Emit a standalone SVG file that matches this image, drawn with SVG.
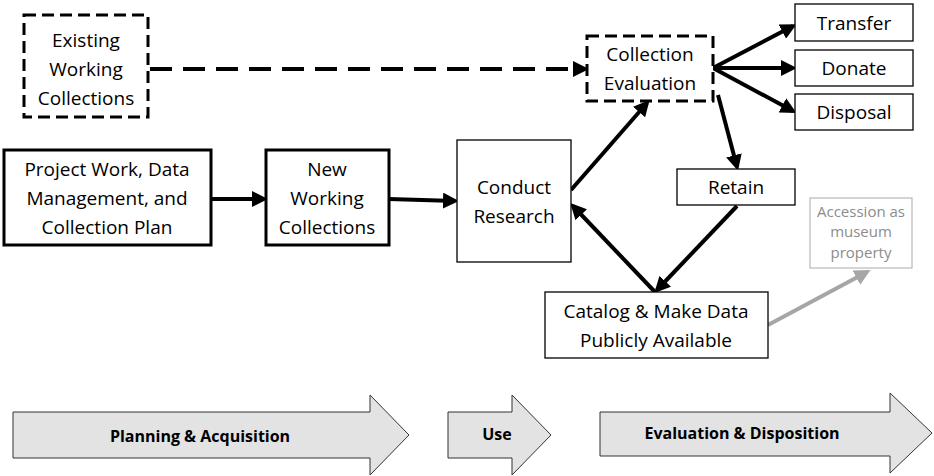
<svg xmlns="http://www.w3.org/2000/svg" width="934" height="476" viewBox="0 0 934 476">
<style>
text{font-family:"Open Sans","Liberation Sans",sans-serif;font-size:19px;fill:#000;text-anchor:middle}
.thick{fill:#fff;stroke:#000;stroke-width:3}
.thin{fill:#fff;stroke:#000;stroke-width:1.3}
.dash{fill:#fff;stroke:#000;stroke-width:3;stroke-dasharray:12 6}
.c{stroke:#000;stroke-width:4;fill:none;marker-end:url(#ah)}
.band{fill:#e3e3e3;stroke:#333;stroke-width:1}
.bl{font-family:"Open Sans","Liberation Sans",sans-serif;font-size:16px;font-weight:bold}
</style>
<defs>
<marker id="ah" markerWidth="4" markerHeight="4" refX="3" refY="2" orient="auto"><path d="M0,0L4,2L0,4z" fill="#000"/></marker>
<marker id="ahg" markerWidth="4" markerHeight="4" refX="3" refY="2" orient="auto"><path d="M0,0L4,2L0,4z" fill="#a6a6a6"/></marker>
</defs>
<g id="connectors">
<line x1="150" y1="69" x2="585" y2="69" stroke="#000" stroke-width="4" stroke-dasharray="22 11" marker-end="url(#ah)"/>
<line class="c" x1="211" y1="199" x2="264" y2="199"/>
<line class="c" x1="389" y1="199" x2="455" y2="201"/>
<line class="c" x1="571" y1="190" x2="647" y2="103"/>
<line class="c" x1="713" y1="68" x2="793" y2="26"/>
<line class="c" x1="713" y1="68" x2="793" y2="68"/>
<line class="c" x1="713" y1="68" x2="793" y2="111"/>
<line class="c" x1="718" y1="95" x2="737" y2="167"/>
<line class="c" x1="737" y1="206" x2="657" y2="290"/>
<line class="c" x1="655" y1="292" x2="573" y2="206"/>
<line x1="768" y1="325" x2="867" y2="272" stroke="#a6a6a6" stroke-width="4" marker-end="url(#ahg)"/>
</g>
<g id="existing"><rect class="dash" x="24" y="15" width="124" height="102"/><text x="86" y="47">Existing</text><text x="86" y="76">Working</text><text x="86" y="105">Collections</text></g>
<g id="evaluation"><rect class="dash" x="587" y="36" width="126" height="65"/><text x="650" y="61">Collection</text><text x="650" y="90">Evaluation</text></g>
<g id="transfer"><rect class="thin" x="795" y="4" width="118" height="37"/><text x="854" y="30">Transfer</text></g>
<g id="donate"><rect class="thin" x="795" y="50" width="118" height="36"/><text x="854" y="75">Donate</text></g>
<g id="disposal"><rect class="thin" x="795" y="94" width="118" height="36"/><text x="854" y="119">Disposal</text></g>
<g id="project"><rect class="thick" x="4" y="150" width="207" height="95"/><text x="107" y="176">Project Work, Data</text><text x="107" y="205">Management, and</text><text x="107" y="234">Collection Plan</text></g>
<g id="new"><rect class="thick" x="266" y="150" width="123" height="95"/><text x="327" y="176">New</text><text x="327" y="205">Working</text><text x="327" y="234">Collections</text></g>
<g id="research"><rect class="thin" x="457" y="140" width="114" height="122"/><text x="514" y="194">Conduct</text><text x="514" y="223">Research</text></g>
<g id="retain"><rect class="thin" x="677" y="169" width="118" height="36"/><text x="736" y="194">Retain</text></g>
<g id="catalog"><rect class="thin" x="545" y="292" width="223" height="66"/><text x="656" y="318">Catalog &amp; Make Data</text><text x="656" y="347">Publicly Available</text></g>
<g id="accession"><rect x="810" y="198" width="102" height="70" fill="#fff" stroke="#aaa" stroke-width="1"/><text x="861" y="217" style="font-size:15px;fill:#8c8c8c">Accession as</text><text x="861" y="237" style="font-size:15px;fill:#8c8c8c">museum</text><text x="861" y="258" style="font-size:15px;fill:#8c8c8c">property</text></g>
<g id="phase1"><path class="band" d="M13,412H370V395L409,435L370,475V458H13Z"/><text class="bl" x="200" y="442">Planning &amp; Acquisition</text></g>
<g id="phase2"><path class="band" d="M448,412H512V395L551,435L512,475V458H448Z"/><text class="bl" x="497" y="440">Use</text></g>
<g id="phase3"><path class="band" d="M600,412H890V393L932,433L890,473V456H600Z"/><text class="bl" x="742" y="439">Evaluation &amp; Disposition</text></g>
</svg>
